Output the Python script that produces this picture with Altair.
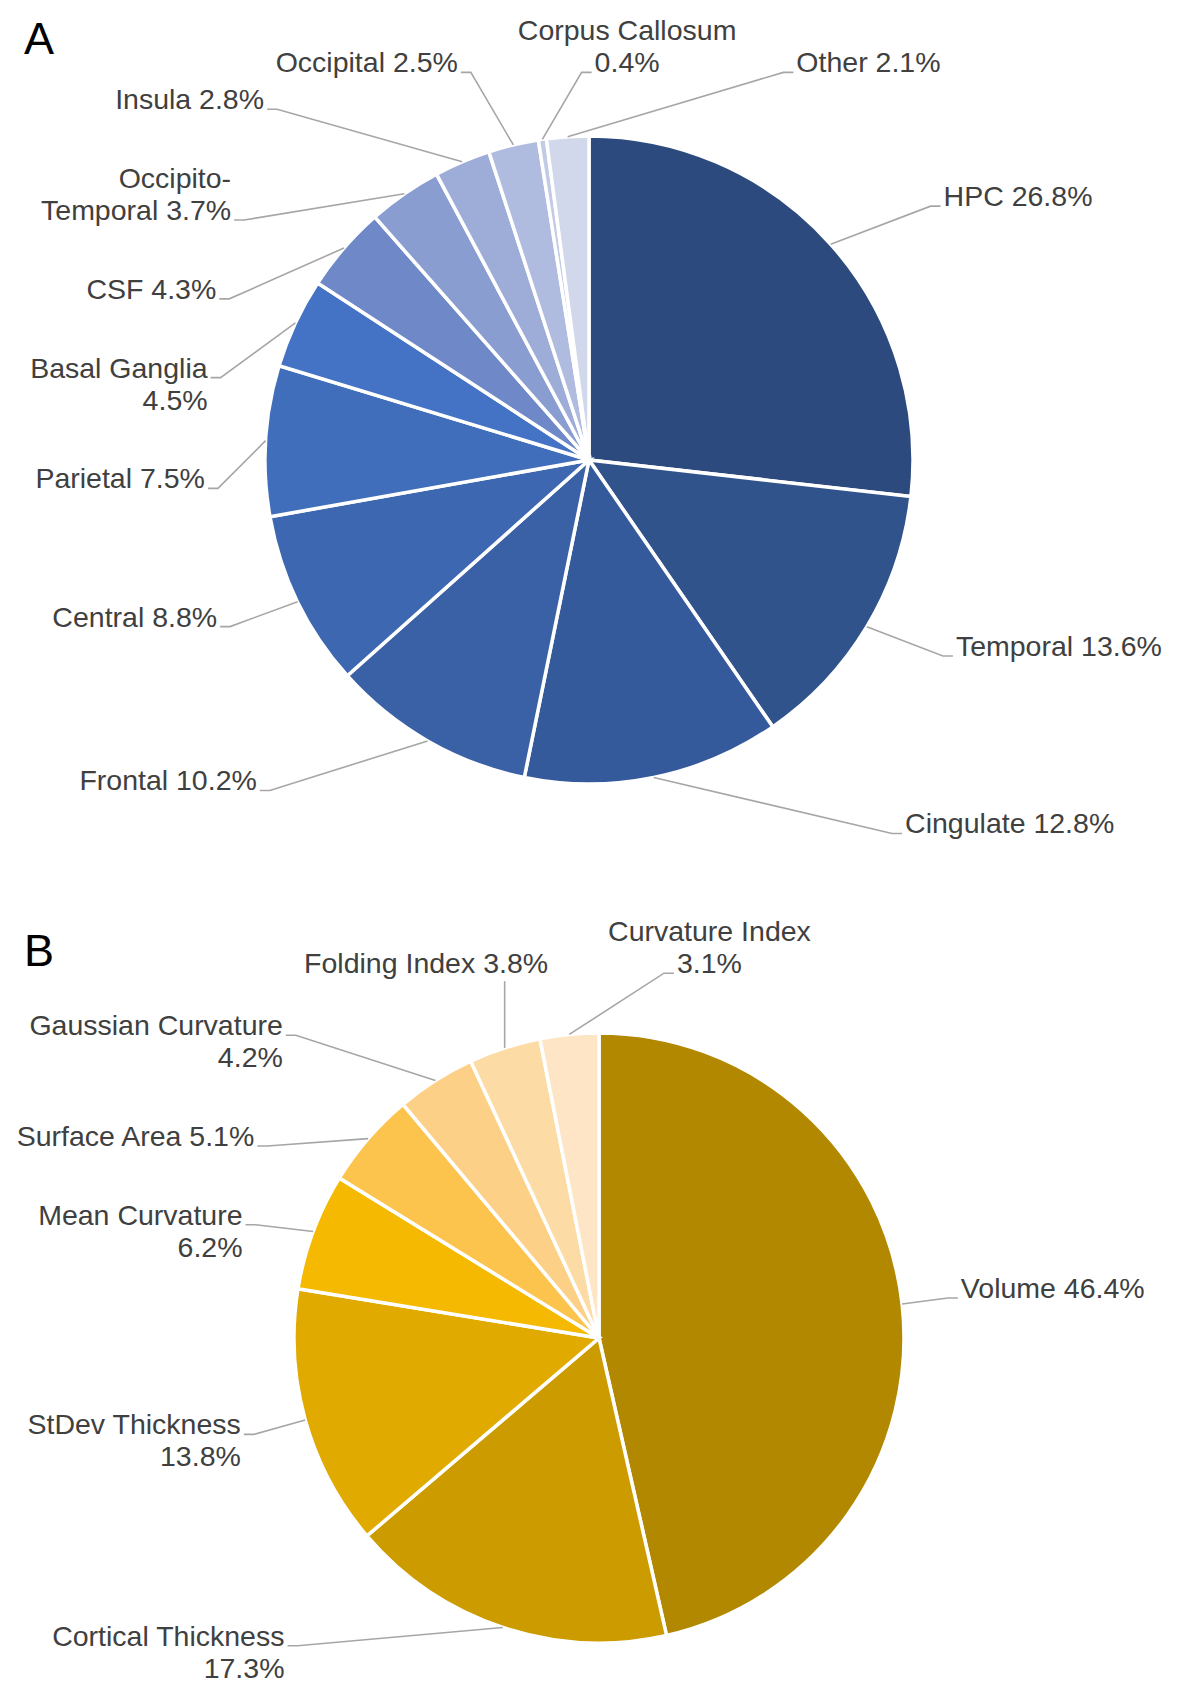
import math
import altair as alt
import pandas as pd

# ---------------- data ----------------
regions = ["HPC", "Temporal", "Cingulate", "Frontal", "Central", "Parietal",
           "Basal Ganglia", "CSF", "Occipito-Temporal", "Insula", "Occipital",
           "Corpus Callosum", "Other"]
region_pct = [26.8, 13.6, 12.8, 10.2, 8.8, 7.5, 4.5, 4.3, 3.7, 2.8, 2.5, 0.4, 2.1]
# label wrapping: 0 = one line, 1 = name / value, 2 = break after hyphen
region_wrap = [0, 0, 0, 0, 0, 0, 1, 0, 2, 0, 0, 1, 0]

features = ["Volume", "Cortical Thickness", "StDev Thickness", "Mean Curvature",
            "Surface Area", "Gaussian Curvature", "Folding Index", "Curvature Index"]
feature_pct = [46.4, 17.3, 13.8, 6.2, 5.1, 4.2, 3.8, 3.1]
feature_wrap = [0, 1, 1, 1, 0, 1, 0, 1]

panel_letters = ["A", "B"]

# ---------------- styles / layout ----------------
BLUES = ["#2C4A7E", "#30538C", "#355A9B", "#3A60A6", "#3D67B0", "#416EBB",
         "#4472C4", "#6E88C8", "#8A9DD1", "#9DADD8", "#AFBCE0", "#C2CBE6", "#D1D8EC"]
GOLDS = ["#B28800", "#CC9B00", "#E0AA00", "#F4B900", "#FCC44D", "#FDD088",
         "#FDDBA4", "#FEE5C5"]

W, H = 1168, 1680
FONT = "Liberation Sans"
FS = 28.5
LH = 32
TEXT_COLOR = "#404040"
LEADER_COLOR = "#A6A6A6"

PIE_A = dict(cx=581, cy=452, r=323)
PIE_B = dict(cx=591, cy=1330, r=304)
LETTER_X = 16
LETTER_Y = [46, 958]

KY = 1.18      # vertical spread of column labels (x r)
KX_COL = 1.15  # column distance (x r)
RY = 2.0       # ellipse for column narrowing
TAIL = 10
GAP = 52
ASC = 0.72 * FS
DESC = 0.22 * FS
TOP_SIN = 0.35
KX_TOP = 2.5
GAPX = 60
LEFT_LIM = 0.97
KT = 1.2
BOTTOM = H - 4

CW = {' ': .278, '.': .278, '%': .889, '-': .333,
      'a': .556, 'b': .556, 'c': .5, 'd': .556, 'e': .556, 'f': .278, 'g': .556,
      'h': .556, 'i': .222, 'j': .222, 'k': .5, 'l': .222, 'm': .833, 'n': .556,
      'o': .556, 'p': .556, 'q': .556, 'r': .333, 's': .5, 't': .278, 'u': .556,
      'v': .5, 'w': .722, 'x': .5, 'y': .5, 'z': .5,
      'A': .667, 'B': .667, 'C': .722, 'D': .722, 'E': .667, 'F': .611, 'G': .778,
      'H': .722, 'I': .278, 'M': .833, 'O': .778, 'P': .667, 'S': .667, 'T': .611,
      'V': .667}


def text_w(s):
    return sum(CW.get(ch, .556) for ch in s) * FS


def label_lines(name, v, mode):
    pct = f"{v:.1f}%"
    if mode == 1:
        return [name, pct]
    if mode == 2:
        k = name.index("-") + 1
        return [name[:k], f"{name[k:]} {pct}"]
    return [f"{name} {pct}"]


def build(panel, names, vals, wraps, cx, cy, r):
    total = sum(vals)
    items = []
    cum = 0.0
    for i, (n, v, m) in enumerate(zip(names, vals, wraps)):
        a = (cum + v / 2) / total * 2 * math.pi
        cum += v
        lines = label_lines(n, v, m)
        ws = [text_w(l) for l in lines]
        s, c = math.sin(a), math.cos(a)
        if c > 0 and abs(s) < TOP_SIN:
            kind = "top"
        else:
            kind = "right" if s >= 0 else "left"
        items.append(dict(id=f"{panel}{i}", lines=lines, ws=ws, s=s, c=c, kind=kind,
                          ex=(r + 1) * s, ey=-(r + 1) * c))

    # side columns
    for side in ("left", "right"):
        col = sorted([it for it in items if it["kind"] == side], key=lambda it: -it["c"])
        prev_bottom = None
        for it in col:
            n = len(it["lines"])
            k = max(range(n), key=lambda j: it["ws"][j])
            it["k"] = k
            it["to"] = -k * LH - ASC
            it["bo"] = (n - 1 - k) * LH + DESC
            ya = -KY * r * it["c"]
            if prev_bottom is not None:
                ya = max(ya, prev_bottom + GAP - it["to"])
            it["ya"] = ya
            prev_bottom = ya + it["bo"]
        limit = BOTTOM - cy
        for it in reversed(col):
            if it["ya"] + it["bo"] > limit:
                it["ya"] = limit - it["bo"]
            limit = it["ya"] + it["to"] - GAP
        sg = 1 if side == "right" else -1
        for it in col:
            ya = it["ya"]
            xc = KX_COL * r * math.sqrt(max(0.0, 1 - (ya / (RY * r)) ** 2))
            it["pts"] = [(it["ex"], it["ey"]), (sg * xc, ya), (sg * (xc + TAIL), ya)]
            it["tx"] = sg * (xc + TAIL + 3)
            it["ty"] = ya - it["k"] * LH
            it["align"] = "left" if side == "right" else "right"

    # top row
    top = sorted([it for it in items if it["kind"] == "top"], key=lambda it: it["s"])
    xs = [KX_TOP * r * it["s"] for it in top]
    bw = [max(it["ws"]) for it in top]
    for _ in range(300):
        for j in range(len(top) - 1):
            need = (bw[j] + bw[j + 1]) / 2 + GAPX - (xs[j + 1] - xs[j])
            if need > 0:
                xs[j] -= need / 2
                xs[j + 1] += need / 2
    if top:
        shift = max(0.0, -LEFT_LIM * r - (xs[0] - bw[0] / 2))
        xs = [x + shift for x in xs]
    yb = -KT * r
    for it, x in zip(top, xs):
        n = len(it["lines"])
        wl = it["ws"][-1]
        e = (it["ex"], it["ey"])
        if it["ex"] < x - wl / 2 - 6:
            end = (x - wl / 2 - 3, yb)
            it["pts"] = [e, (end[0] - TAIL, yb), end]
        elif it["ex"] > x + wl / 2 + 6:
            end = (x + wl / 2 + 3, yb)
            it["pts"] = [e, (end[0] + TAIL, yb), end]
        else:
            it["pts"] = [e, (it["ex"], yb + 8)]
        it["tx"] = x
        it["ty"] = yb - (n - 1) * LH
        it["align"] = "center"

    slices = pd.DataFrame({"name": names, "value": vals, "idx": list(range(len(names)))})
    texts = pd.DataFrame([{"id": it["id"], "label": "\n".join(it["lines"]),
                           "x": cx + it["tx"], "y": cy + it["ty"], "align": it["align"]}
                          for it in items])
    leaders = pd.DataFrame([{"id": it["id"], "pt": p, "x": cx + px, "y": cy + py}
                            for it in items for p, (px, py) in enumerate(it["pts"])])
    return slices, texts, leaders


sa, ta, la = build("A", regions, region_pct, region_wrap, **PIE_A)
sb, tb, lb = build("B", features, feature_pct, feature_wrap, **PIE_B)
texts = pd.concat([ta, tb], ignore_index=True)
leaders = pd.concat([la, lb], ignore_index=True)

XS = alt.Scale(domain=[0, W], nice=False, zero=False)
YS = alt.Scale(domain=[0, H], nice=False, zero=False, reverse=True)


def pie(df, names, colors, cx, cy, r):
    return alt.Chart(df).mark_arc(outerRadius=r + 1, stroke="white", strokeWidth=3.5).encode(
        theta=alt.Theta("value:Q", stack=True),
        color=alt.Color("name:N", scale=alt.Scale(domain=names, range=colors), legend=None),
        order=alt.Order("idx:Q"),
        x=alt.XDatum(cx, scale=XS, axis=None),
        y=alt.YDatum(cy, scale=YS, axis=None),
    )


pie_a = pie(sa, regions, BLUES, **PIE_A)
pie_b = pie(sb, features, GOLDS, **PIE_B)

leader_layer = alt.Chart(leaders).mark_line(color=LEADER_COLOR, strokeWidth=1.6).encode(
    x=alt.X("x:Q", scale=XS, axis=None),
    y=alt.Y("y:Q", scale=YS, axis=None),
    detail="id:N",
    order="pt:Q",
)


def text_layer(align):
    d = texts[texts["align"] == align]
    return alt.Chart(d).mark_text(
        align=align, baseline="alphabetic", font=FONT, fontSize=FS,
        lineHeight=LH, lineBreak="\n", color=TEXT_COLOR
    ).encode(
        x=alt.X("x:Q", scale=XS, axis=None),
        y=alt.Y("y:Q", scale=YS, axis=None),
        text="label:N",
    )


letters = pd.DataFrame({"t": panel_letters, "x": [LETTER_X] * 2, "y": LETTER_Y})
letter_layer = alt.Chart(letters).mark_text(
    align="left", baseline="alphabetic", font=FONT, fontSize=45, color="#000000"
).encode(
    x=alt.X("x:Q", scale=XS, axis=None),
    y=alt.Y("y:Q", scale=YS, axis=None),
    text="t:N",
)

chart = alt.layer(
    pie_a, pie_b, leader_layer,
    text_layer("left"), text_layer("right"), text_layer("center"),
    letter_layer,
).resolve_scale(
    theta="independent", color="independent"
).properties(
    width=W, height=H, padding=0, autosize=alt.AutoSizeParams(type="none")
).configure_view(stroke=None)

chart.save("out.html", embed_options={"renderer": "svg", "actions": False})
